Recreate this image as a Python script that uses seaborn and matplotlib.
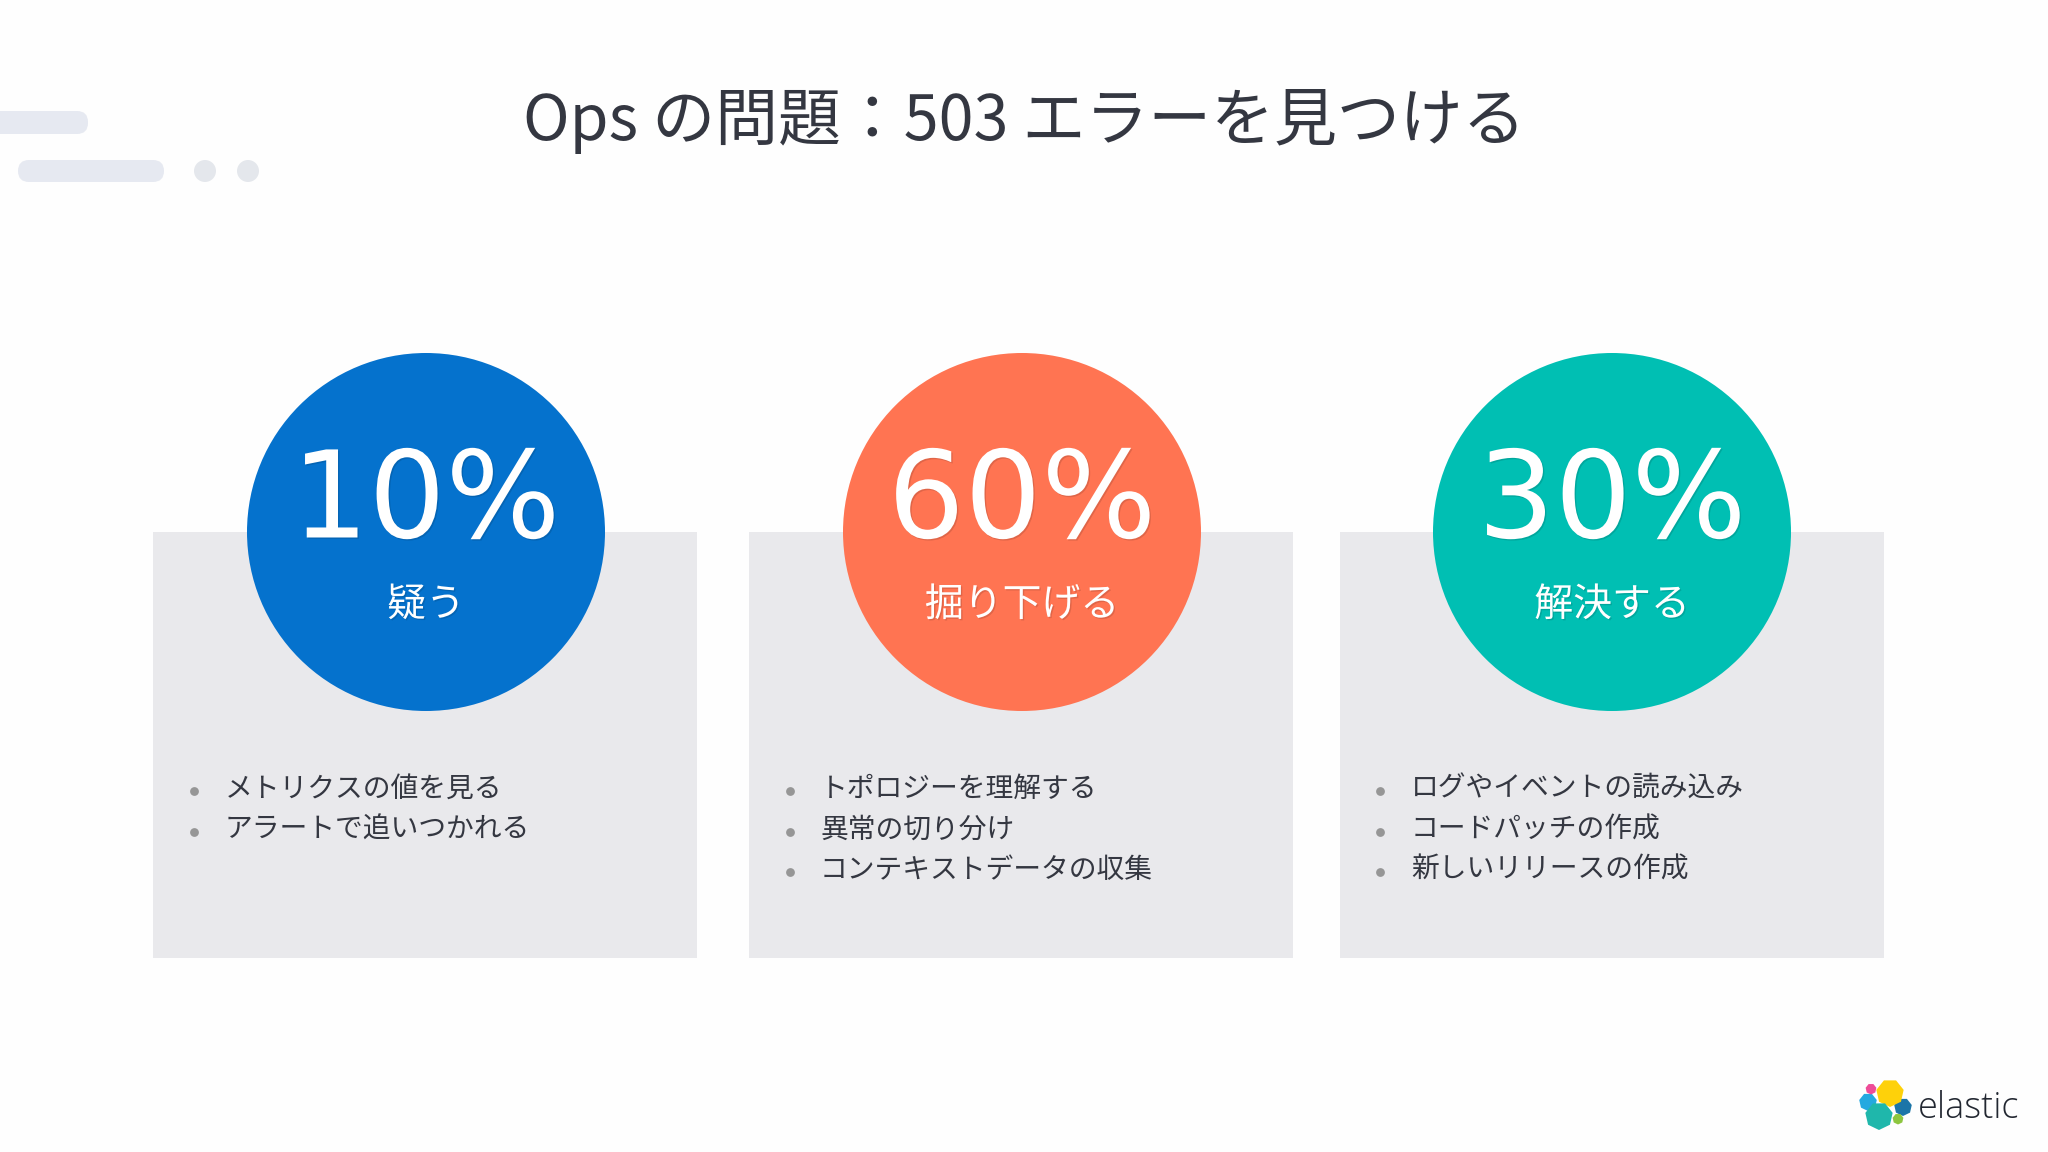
import matplotlib
matplotlib.use("Agg")
import matplotlib.pyplot as plt
from matplotlib.patches import Rectangle, FancyBboxPatch, Circle, RegularPolygon
import matplotlib.patheffects as pe
import seaborn as sns
import pandas as pd

title = "Ops の問題：503 エラーを見つける"
percents = [10, 60, 30]
stages = ["疑う", "掘り下げる", "解決する"]
bullets_a = ["メトリクスの値を見る", "アラートで追いつかれる"]
bullets_b = ["トポロジーを理解する", "異常の切り分け", "コンテキストデータの収集"]
bullets_c = ["ログやイベントの読み込み", "コードパッチの作成", "新しいリリースの作成"]
bullets = [bullets_a, bullets_b, bullets_c]
colors = ["#0572CD", "#FF7452", "#00BFB3"]
brand = "elastic"

sns.set_theme(style="white")
CJK = ["Noto Sans CJK JP", "DejaVu Sans"]
plt.rcParams["font.family"] = CJK

fig = plt.figure(figsize=(20.48, 11.52), dpi=100, facecolor="#FEFEFE")
ax = fig.add_axes([0, 0, 1, 1])
ax.set_xlim(0, 2048)
ax.set_ylim(1152, 0)
ax.axis("off")

INK = "#343741"
cx = [426, 1022, 1612]
px = [153, 749, 1340]
pw, py, ph = 544, 532, 426
R = 179
line_y = [791, 832, 872]
bul_x = [194, 790, 1380]
txt_x = [225, 820, 1411]

# decoration
deco = "#E6E9F1"
ax.add_patch(FancyBboxPatch((-30, 111), 118, 23, boxstyle="round,pad=0,rounding_size=11", fc=deco, ec="none"))
ax.add_patch(FancyBboxPatch((18, 160), 146, 22, boxstyle="round,pad=0,rounding_size=11", fc=deco, ec="none"))
ax.add_patch(Circle((205, 171), 11, fc="#E4E7EC", ec="none"))
ax.add_patch(Circle((248, 171), 11, fc="#E4E7EC", ec="none"))

ax.text(1024, 122, title, ha="center", va="center", fontsize=45.3, color=INK)

for x in px:
    ax.add_patch(Rectangle((x, py), pw, ph, fc="#E9E9EC", ec="none", zorder=1))

circles = pd.DataFrame({"x": cx, "y": [py] * 3, "stage": stages})
d_pt = 2 * R * 72 / 100
sns.scatterplot(data=circles, x="x", y="y", hue="stage", palette=colors, s=d_pt ** 2,
                linewidth=0, legend=False, ax=ax, zorder=2, clip_on=False)
ax.set_xlim(0, 2048)
ax.set_ylim(1152, 0)
ax.axis("off")

glow = [pe.withSimplePatchShadow(offset=(1, -1), shadow_rgbFace="#000000", alpha=0.12)]
for x, p, s in zip(cx, percents, stages):
    ax.text(x, 504, f"{p}%", ha="center", va="center", fontsize=87, color="white",
            family=["DejaVu Sans"], zorder=3, path_effects=glow)
    ax.text(x, 605, s, ha="center", va="center", fontsize=28, color="white", zorder=3, path_effects=glow)

rows = []
for bx, tx, items in zip(bul_x, txt_x, bullets):
    for y, item in zip(line_y, items):
        ax.text(tx, y - 2, item, ha="left", va="center", fontsize=20, color=INK, zorder=3)
        rows.append({"x": bx, "y": y})
sns.scatterplot(data=pd.DataFrame(rows), x="x", y="y", color="#969696", s=40, linewidth=0,
                legend=False, ax=ax, zorder=3)
ax.set_xlim(0, 2048)
ax.set_ylim(1152, 0)
ax.axis("off")

# logo
for xy, r, c, z in [((1890, 1093), 14, "#FED10A", 5), ((1879, 1116), 14, "#1FB7AB", 5),
                    ((1868, 1102), 9, "#24A9E0", 4), ((1871, 1089), 5.5, "#EE4C98", 4),
                    ((1903, 1107), 9, "#1B75A8", 4), ((1898, 1119), 5.5, "#8DC63F", 4)]:
    ax.add_patch(RegularPolygon(xy, 7, radius=r, fc=c, ec="none", zorder=z))
ax.text(1918, 1118, brand, ha="left", va="baseline", fontsize=26, color="#222731",
        family=["Open Sans", "DejaVu Sans"], fontweight="light")

fig.savefig("out.png", dpi=100, facecolor=fig.get_facecolor())
